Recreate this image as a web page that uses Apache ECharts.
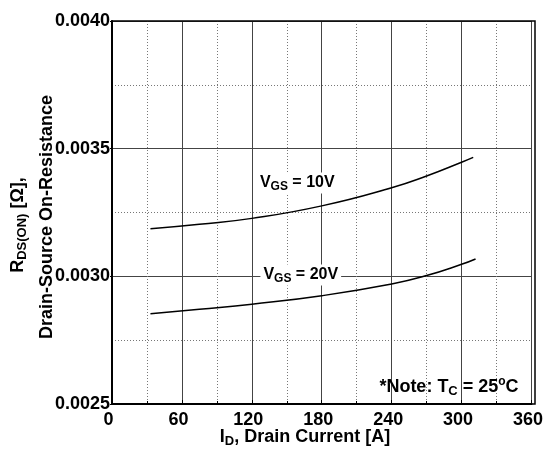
<!DOCTYPE html>
<html>
<head>
<meta charset="utf-8">
<script src="https://cdn.jsdelivr.net/npm/echarts@6/dist/echarts.min.js"></script>
<style>html,body{margin:0;padding:0;background:#fff}#c{width:546px;height:457px}</style>
</head>
<body>
<div id="c"></div>
<script>
// Data
var xTicks = [0, 60, 120, 180, 240, 300, 360];
var yTicks = [0.0025, 0.0030, 0.0035, 0.0040];
var idVgs10 = [33, 75, 120, 180, 240, 270, 300, 310];
var rVgs10 = [0.003186, 0.003204, 0.003227, 0.003276, 0.003347, 0.003393, 0.003447, 0.003466];
var idVgs20 = [33, 75, 120, 180, 240, 270, 300, 312];
var rVgs20 = [0.002853, 0.002871, 0.002891, 0.002924, 0.00297, 0.003003, 0.003047, 0.003068];
var labelVgs10 = [159, 0.003366];
var labelVgs20 = [162, 0.003005];

var FONT = '"Liberation Sans", Arial, sans-serif';

function pairs(xs, ys) { return xs.map(function (x, i) { return [x, ys[i]]; }); }

var richBig = {
  a: { fontFamily: FONT, fontWeight: 'bold', fontSize: 18, color: '#000' },
  s: { fontFamily: FONT, fontWeight: 'bold', fontSize: 13, color: '#000', padding: [8, 0, 0, 0] },
  o: { fontFamily: FONT, fontWeight: 'bold', fontSize: 12, color: '#000', padding: [0, 0, 10, 0] }
};
var richV = {
  a: { fontFamily: FONT, fontWeight: 'bold', fontSize: 16, color: '#000' },
  s: { fontFamily: FONT, fontWeight: 'bold', fontSize: 12, color: '#000', padding: [7, 0, 0, 0] }
};

var chart = echarts.init(document.getElementById('c'), null, { renderer: 'canvas' });
chart.setOption({
  animation: false,
  backgroundColor: '#fff',
  grid: { left: 112, right: 11, top: 21, bottom: 53, show: false },
  xAxis: {
    type: 'value', min: xTicks[0], max: xTicks[xTicks.length - 1], interval: 60,
    axisLine: { show: true, onZero: false, lineStyle: { color: '#000', width: 2 } },
    axisTick: { show: true, inside: true, length: 4, lineStyle: { color: '#000' } },
    minorTick: { show: true, splitNumber: 2, length: 3, lineStyle: { color: '#000' } },
    axisLabel: { fontFamily: FONT, fontWeight: 'bold', fontSize: 18, color: '#000', margin: 7, padding: [0, 7, 0, 0] },
    splitLine: { show: true, lineStyle: { color: '#444', width: 1 } },
    minorSplitLine: { show: true, lineStyle: { color: '#777', width: 1, type: [1, 2] } }
  },
  yAxis: {
    type: 'value', min: yTicks[0], max: yTicks[yTicks.length - 1], interval: 0.0005,
    axisLine: { show: true, onZero: false, lineStyle: { color: '#000', width: 2 } },
    axisTick: { show: true, inside: false, length: 2, lineStyle: { color: '#000' } },
    axisLabel: {
      fontFamily: FONT, fontWeight: 'bold', fontSize: 18, color: '#000', margin: 2,
      formatter: function (v) { return v.toFixed(4); }
    },
    splitLine: { show: true, lineStyle: { color: '#444', width: 1 } },
    minorTick: { show: false, splitNumber: 2 },
    minorSplitLine: { show: true, lineStyle: { color: '#777', width: 1, type: [1, 2] } }
  },
  graphic: [
    { type: 'rect', shape: { x: 112, y: 21, width: 423, height: 383 }, style: { fill: 'none', stroke: '#000', lineWidth: 1.5 }, silent: true, z: 10 },
    {
      type: 'text', x: 305, y: 437, z: 10,
      style: {
        text: '{a|I}{s|D}{a|, Drain Current [A]}', align: 'center', verticalAlign: 'middle',
        rich: richBig
      }
    },
    {
      type: 'text', x: 18, y: 225, rotation: Math.PI / 2, z: 10,
      style: {
        text: '{a|R}{s|DS(ON)}{a| [Ω],}', align: 'center', verticalAlign: 'middle',
        rich: richBig
      }
    },
    {
      type: 'text', x: 47, y: 217, rotation: Math.PI / 2, z: 10,
      style: {
        text: 'Drain-Source On-Resistance', align: 'center', verticalAlign: 'middle',
        fontFamily: FONT, fontWeight: 'bold', fontSize: 18, fill: '#000'
      }
    },
    {
      type: 'text', x: 449, y: 387, z: 10,
      style: {
        text: '{a|*Note: T}{s|C}{a| = 25}{o|o}{a|C}', align: 'center', verticalAlign: 'middle',
        rich: richBig
      }
    }
  ],
  series: [
    {
      type: 'line', data: pairs(idVgs10, rVgs10), smooth: 0.5, symbol: 'none',
      lineStyle: { color: '#000', width: 1.5 }, z: 5,
      markPoint: {
        symbol: 'rect', symbolSize: 1, itemStyle: { color: 'transparent' },
        data: [{ coord: labelVgs10 }],
        label: {
          show: true, position: 'inside', formatter: '{a|V}{s|GS}{a| = 10V}',
          backgroundColor: '#fff', padding: [1, 3, 1, 3], rich: richV
        }
      }
    },
    {
      type: 'line', data: pairs(idVgs20, rVgs20), smooth: 0.5, symbol: 'none',
      lineStyle: { color: '#000', width: 1.5 }, z: 5,
      markPoint: {
        symbol: 'rect', symbolSize: 1, itemStyle: { color: 'transparent' },
        data: [{ coord: labelVgs20 }],
        label: {
          show: true, position: 'inside', formatter: '{a|V}{s|GS}{a| = 20V}',
          backgroundColor: '#fff', padding: [1, 3, 1, 3], rich: richV
        }
      }
    }
  ]
});
</script>
</body>
</html>
